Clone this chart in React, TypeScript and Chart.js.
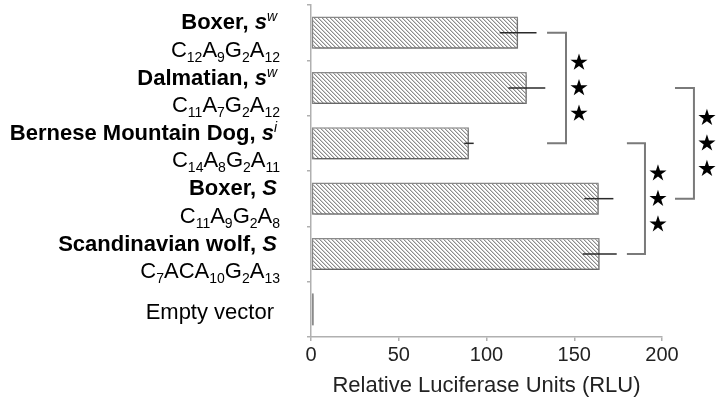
import React, { useEffect, useRef } from "react";
import { Chart, registerables } from "chart.js";

Chart.register(...registerables);

// ---- data ----
const breeds = ["Boxer", "Dalmatian", "Bernese Mountain Dog", "Boxer", "Scandinavian wolf", "Empty vector"];
const alleles = ["s", "s", "s", "S", "S", ""];
const alleleSups = ["w", "w", "i", "", "", ""];
const haplotypes = ["C12A9G2A12", "C11A7G2A12", "C14A8G2A11", "C11A9G2A8", "C7ACA10G2A13", ""];
const rluMeans = [118, 123, 90, 164, 164.5, 1.6];
const rluErrors = [10.5, 10.5, 2.7, 8.3, 9.7, 0];
const xTicks = [0, 50, 100, 150, 200];
const axisTitle = "Relative Luciferase Units (RLU)";
// significance brackets (category indices and RLU position of bracket)
const bracketFrom = [0, 2, 1];
const bracketTo = [2, 4, 3];
const bracketArmStart = [134.5, 180, 207.4];
const bracketX = [145.3, 190.3, 218.2];
const bracketStarCounts = [3, 3, 3];

const FONT = '"Liberation Sans", Arial, Helvetica, sans-serif';

type Seg = { t: string; f: string; dy: number };

function drawSegs(ctx: CanvasRenderingContext2D, segs: Seg[], right: number, baseline: number) {
  let total = 0;
  const widths: number[] = [];
  for (const s of segs) {
    ctx.font = s.f;
    const w = ctx.measureText(s.t).width;
    widths.push(w);
    total += w;
  }
  let x = right - total;
  ctx.textAlign = "left";
  ctx.textBaseline = "alphabetic";
  segs.forEach((s, k) => {
    ctx.font = s.f;
    ctx.fillText(s.t, x, baseline + s.dy);
    x += widths[k];
  });
}

function haplotypeSegs(h: string): Seg[] {
  const segs: Seg[] = [];
  const re = /([A-Z])(\d*)/g;
  let m: RegExpExecArray | null;
  while ((m = re.exec(h))) {
    segs.push({ t: m[1], f: `22px ${FONT}`, dy: 0 });
    if (m[2]) segs.push({ t: m[2], f: `14px ${FONT}`, dy: 5 });
  }
  return segs;
}

function drawStar(ctx: CanvasRenderingContext2D, cx: number, cy: number, R: number) {
  const r = R * 0.382;
  ctx.beginPath();
  for (let k = 0; k < 10; k++) {
    const rad = k % 2 === 0 ? R : r;
    const a = -Math.PI / 2 + (k * Math.PI) / 5;
    const px = cx + rad * Math.cos(a);
    const py = cy + rad * Math.sin(a);
    if (k === 0) ctx.moveTo(px, py);
    else ctx.lineTo(px, py);
  }
  ctx.closePath();
  ctx.fill();
}

const decorPlugin = {
  id: "decor",
  beforeDatasetsDraw(chart: any) {
    const ctx = chart.ctx;
    ctx.save();
    ctx.shadowColor = "rgba(0,0,0,0.35)";
    ctx.shadowBlur = 3;
    ctx.shadowOffsetX = 1;
    ctx.shadowOffsetY = 2;
  },
  afterDatasetsDraw(chart: any) {
    const ctx = chart.ctx;
    ctx.restore();
    const xs = chart.scales.x;
    const ys = chart.scales.y;
    // error bars
    ctx.save();
    ctx.strokeStyle = "#2a2a2a";
    ctx.lineWidth = 1.5;
    rluMeans.forEach((v, i) => {
      const e = rluErrors[i];
      if (!e) return;
      const y = ys.getPixelForValue(i);
      ctx.beginPath();
      ctx.moveTo(xs.getPixelForValue(v - e), y);
      ctx.lineTo(xs.getPixelForValue(v + e), y);
      ctx.stroke();
    });
    ctx.restore();
  },
  afterDraw(chart: any) {
    const ctx: CanvasRenderingContext2D = chart.ctx;
    const xs = chart.scales.x;
    const ys = chart.scales.y;
    ctx.save();
    // brackets + stars
    bracketX.forEach((bx, k) => {
      const x = xs.getPixelForValue(bx);
      const x0 = xs.getPixelForValue(bracketArmStart[k]);
      const y1 = ys.getPixelForValue(bracketFrom[k]);
      const y2 = ys.getPixelForValue(bracketTo[k]);
      ctx.strokeStyle = "#7a7a7a";
      ctx.lineWidth = 2;
      ctx.beginPath();
      ctx.moveTo(x0, y1);
      ctx.lineTo(x, y1);
      ctx.lineTo(x, y2);
      ctx.lineTo(x0, y2);
      ctx.stroke();
      ctx.fillStyle = "#000";
      const n = bracketStarCounts[k];
      const mid = (y1 + y2) / 2;
      for (let s = 0; s < n; s++) {
        drawStar(ctx, x + 13, mid + (s - (n - 1) / 2) * 25.5, 9);
      }
    });
    // category labels
    ctx.fillStyle = "#000";
    const right = 277;
    breeds.forEach((b, i) => {
      const cy = ys.getPixelForValue(i);
      if (!haplotypes[i]) {
        drawSegs(ctx, [{ t: b, f: `22px ${FONT}`, dy: 0 }], right - 3, cy + 9.5);
        return;
      }
      const line1: Seg[] = [
        { t: b + ", ", f: `bold 22px ${FONT}`, dy: 0 },
        { t: alleles[i], f: `italic bold 22px ${FONT}`, dy: 0 },
      ];
      if (alleleSups[i]) line1.push({ t: alleleSups[i], f: `italic 14px ${FONT}`, dy: -8 });
      drawSegs(ctx, line1, right, cy - 3.5);
      drawSegs(ctx, haplotypeSegs(haplotypes[i]), right + 3, cy + 24);
    });
    ctx.restore();
  },
};

export default function App() {
  const ref = useRef<HTMLCanvasElement | null>(null);
  useEffect(() => {
    const canvas = ref.current;
    if (!canvas) return;
    const pc = document.createElement("canvas");
    pc.width = 4;
    pc.height = 4;
    const pctx = pc.getContext("2d")!;
    pctx.fillStyle = "#ffffff";
    pctx.fillRect(0, 0, 4, 4);
    for (let i = 0; i < 4; i++) {
      pctx.fillStyle = "#8c8c8c";
      pctx.fillRect(i, i, 1, 1);
      pctx.fillStyle = "#cfcfcf";
      pctx.fillRect((i + 1) % 4, i, 1, 1);
    }
    const pattern = canvas.getContext("2d")!.createPattern(pc, "repeat");

    const chart = new Chart(canvas, {
      type: "bar",
      data: {
        labels: breeds.map((b, i) => (alleles[i] ? `${b}, ${alleles[i]}${alleleSups[i]}` : b)),
        datasets: [
          {
            data: rluMeans,
            backgroundColor: pattern as any,
            borderColor: "#8a8a8a",
            borderWidth: 1.5,
            borderSkipped: false,
            barPercentage: 0.58,
            categoryPercentage: 1,
          },
        ],
      },
      options: {
        animation: false,
        responsive: false,
        indexAxis: "y",
        layout: { padding: { left: 0, right: 61, top: 5, bottom: 0 } },
        plugins: { legend: { display: false }, tooltip: { enabled: false } },
        scales: {
          x: {
            type: "linear",
            min: 0,
            max: 200,
            afterBuildTicks: (s: any) => {
              s.ticks = xTicks.map((v) => ({ value: v }));
            },
            ticks: { font: { family: FONT, size: 20 }, color: "#222", padding: 2, maxRotation: 0 },
            grid: { drawOnChartArea: false, tickLength: 4, color: "#b0b0b0", lineWidth: 1.5 },
            border: { color: "#b0b0b0", width: 1.5 },
            title: {
              display: true,
              text: axisTitle,
              font: { family: FONT, size: 22 },
              color: "#222",
              padding: { top: 4, bottom: 4 },
            },
            afterFit: (s: any) => {
              s.height = 66;
            },
          },
          y: {
            type: "category",
            offset: true,
            ticks: { display: false },
            grid: { offset: true, drawOnChartArea: false, tickLength: 4, color: "#b0b0b0", lineWidth: 1.5 },
            border: { color: "#b0b0b0", width: 1.5 },
            afterFit: (s: any) => {
              s.width = 311;
            },
          },
        },
      } as any,
      plugins: [decorPlugin],
    });
    return () => chart.destroy();
  }, []);
  return (
    <canvas
      ref={ref}
      width={723}
      height={403}
      style={{ position: "absolute", left: 0, top: 0, width: 723, height: 403, display: "block" }}
    />
  );
}
